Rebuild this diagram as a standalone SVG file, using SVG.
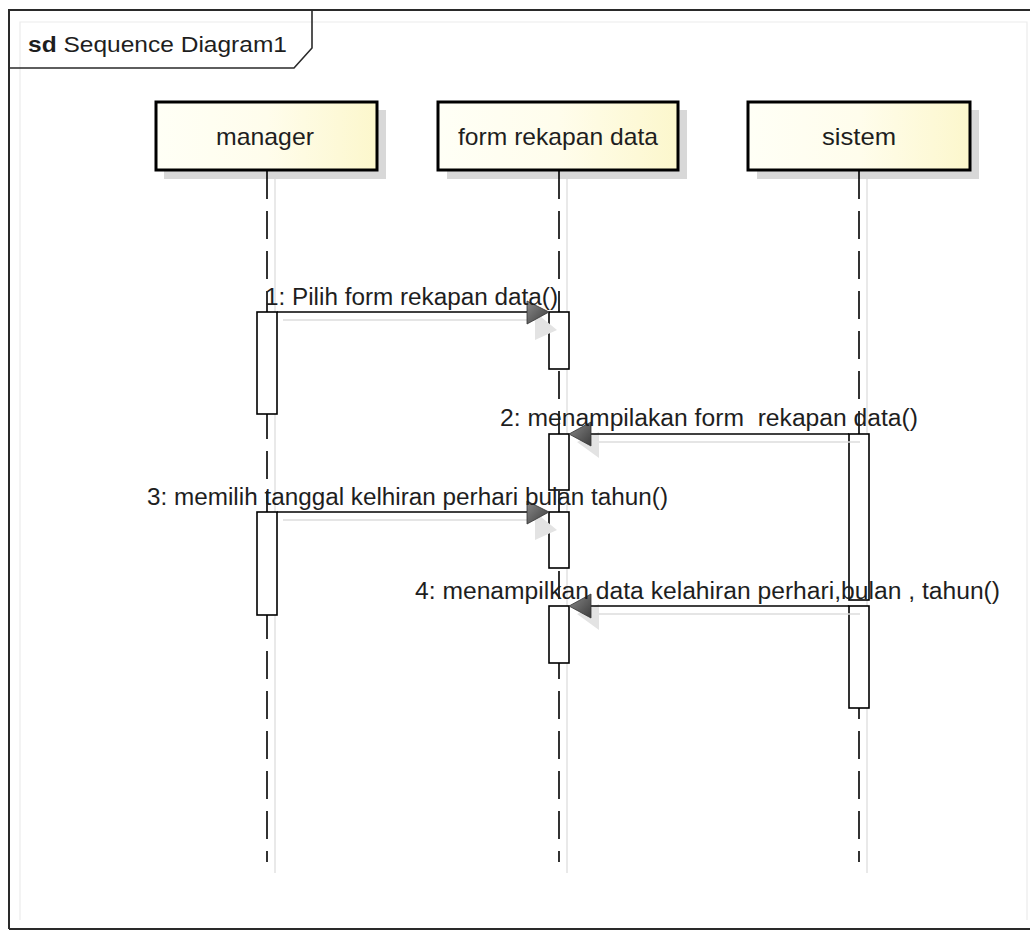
<svg xmlns="http://www.w3.org/2000/svg" width="1030" height="930" viewBox="0 0 1030 930">
  <style>
    text { font-family: "Liberation Sans", Arial, sans-serif; fill: #1e1e1e; }
    .head { fill: url(#headFill); stroke: #000; stroke-width: 3; }
    .headShadow { fill: #d8d8d8; }
    .headLabel { font-size: 24px; text-anchor: middle; }
    .life { stroke: #000; stroke-width: 1.6; stroke-dasharray: 28 12; fill: none; }
    .lifeShadow { stroke: #e2e2e2; stroke-width: 1.5; fill: none; }
    .act { fill: #fff; stroke: #000; stroke-width: 1.6; }
    .msg { stroke: #000; stroke-width: 1.6; fill: none; }
    .msgShadow { stroke: #dcdcdc; stroke-width: 1.5; fill: none; }
    .arrowHead { fill: url(#headArrow); stroke: #333; stroke-width: 0.8; }
    .arrowShadow { fill: #e3e3e3; }
    .msgLabel { font-size: 23px; white-space: pre; }
  </style>
  <defs>
    <linearGradient id="headFill" x1="0" y1="0" x2="1" y2="0">
      <stop offset="0" stop-color="#fffff6"/>
      <stop offset="0.5" stop-color="#fffdec"/>
      <stop offset="1" stop-color="#fcf7cc"/>
    </linearGradient>
    <linearGradient id="headArrow" x1="0" y1="0" x2="1" y2="1">
      <stop offset="0" stop-color="#8a8a8a"/>
      <stop offset="1" stop-color="#3c3c3c"/>
    </linearGradient>
  </defs>

  <rect width="1030" height="930" fill="#fff"/>

  <!-- frame -->
  <g id="frame">
    <path d="M20,920 V22 H1027 V920" fill="none" stroke="#ececec" stroke-width="1.2"/>
    <path d="M9,929 V10 H1032 M9,929 H1032" fill="none" stroke="#2a2a2a" stroke-width="2"/>
    <path d="M9,68 H294 L312,48 V10" fill="none" stroke="#2a2a2a" stroke-width="1.6"/>
    <text x="28" y="52" font-size="22" textLength="259" lengthAdjust="spacingAndGlyphs"><tspan font-weight="bold">sd</tspan> Sequence Diagram1</text>
  </g>

  <!-- lifelines -->
  <g id="lifeline-manager">
    <rect class="headShadow" x="164" y="110" width="222" height="69"/>
    <line class="lifeShadow" x1="275" y1="179" x2="275" y2="873"/>
    <line class="life" x1="267" y1="171" x2="267" y2="862"/>
    <rect class="head" x="156" y="102" width="221" height="68"/>
    <text class="headLabel" x="265" y="145" textLength="98" lengthAdjust="spacingAndGlyphs">manager</text>
  </g>
  <g id="lifeline-form">
    <rect class="headShadow" x="447" y="110" width="240" height="69"/>
    <line class="lifeShadow" x1="567" y1="179" x2="567" y2="873"/>
    <line class="life" x1="559" y1="171" x2="559" y2="862"/>
    <rect class="head" x="438" y="102" width="240" height="68"/>
    <text class="headLabel" x="558" y="145" textLength="200" lengthAdjust="spacingAndGlyphs">form rekapan data</text>
  </g>
  <g id="lifeline-sistem">
    <rect class="headShadow" x="757" y="110" width="222" height="69"/>
    <line class="lifeShadow" x1="867" y1="179" x2="867" y2="873"/>
    <line class="life" x1="859" y1="171" x2="859" y2="862"/>
    <rect class="head" x="748" y="102" width="222" height="68"/>
    <text class="headLabel" x="859" y="145" textLength="74" lengthAdjust="spacingAndGlyphs">sistem</text>
  </g>

  <!-- activation bars -->
  <g id="activations">
    <rect class="act" x="257" y="312" width="20" height="102"/>
    <rect class="act" x="257" y="512" width="20" height="103"/>
    <rect class="act" x="549" y="312" width="20" height="57"/>
    <rect class="act" x="549" y="434" width="20" height="56"/>
    <rect class="act" x="549" y="512" width="20" height="56"/>
    <rect class="act" x="549" y="606" width="20" height="57"/>
    <rect class="act" x="849" y="434" width="20" height="166"/>
    <rect class="act" x="849" y="606" width="20" height="102"/>
  </g>

  <!-- messages -->
  <g id="connectors">
    <!-- 1 -->
    <line class="msgShadow" x1="283" y1="320" x2="540" y2="320"/>
    <polygon class="arrowShadow" points="535,312 557,330 535,340"/>
    <line class="msg" x1="277" y1="312" x2="530" y2="312"/>
    <polygon class="arrowHead" points="527,301 549,312 527,324"/>
    <text class="msgLabel" x="265" y="305" textLength="293" lengthAdjust="spacingAndGlyphs">1: Pilih form rekapan data()</text>

    <!-- 2 -->
    <line class="msgShadow" x1="598" y1="442" x2="860" y2="442"/>
    <polygon class="arrowShadow" points="577,442 599,432 599,458"/>
    <line class="msg" x1="588" y1="434" x2="849" y2="434"/>
    <polygon class="arrowHead" points="569,434 591,422 591,446"/>
    <text class="msgLabel" x="500" y="426" textLength="418" lengthAdjust="spacingAndGlyphs">2: menampilakan form  rekapan data()</text>

    <!-- 3 -->
    <line class="msgShadow" x1="283" y1="520" x2="540" y2="520"/>
    <polygon class="arrowShadow" points="535,512 557,530 535,540"/>
    <line class="msg" x1="277" y1="512" x2="530" y2="512"/>
    <polygon class="arrowHead" points="527,501 549,512 527,524"/>
    <text class="msgLabel" x="147" y="505" textLength="521" lengthAdjust="spacingAndGlyphs">3: memilih tanggal kelhiran perhari bulan tahun()</text>

    <!-- 4 -->
    <line class="msgShadow" x1="598" y1="614" x2="860" y2="614"/>
    <polygon class="arrowShadow" points="577,614 599,604 599,630"/>
    <line class="msg" x1="588" y1="606" x2="849" y2="606"/>
    <polygon class="arrowHead" points="569,606 591,594 591,618"/>
    <text class="msgLabel" x="415" y="599" textLength="585" lengthAdjust="spacingAndGlyphs">4: menampilkan data kelahiran perhari,bulan , tahun()</text>
  </g>
</svg>
